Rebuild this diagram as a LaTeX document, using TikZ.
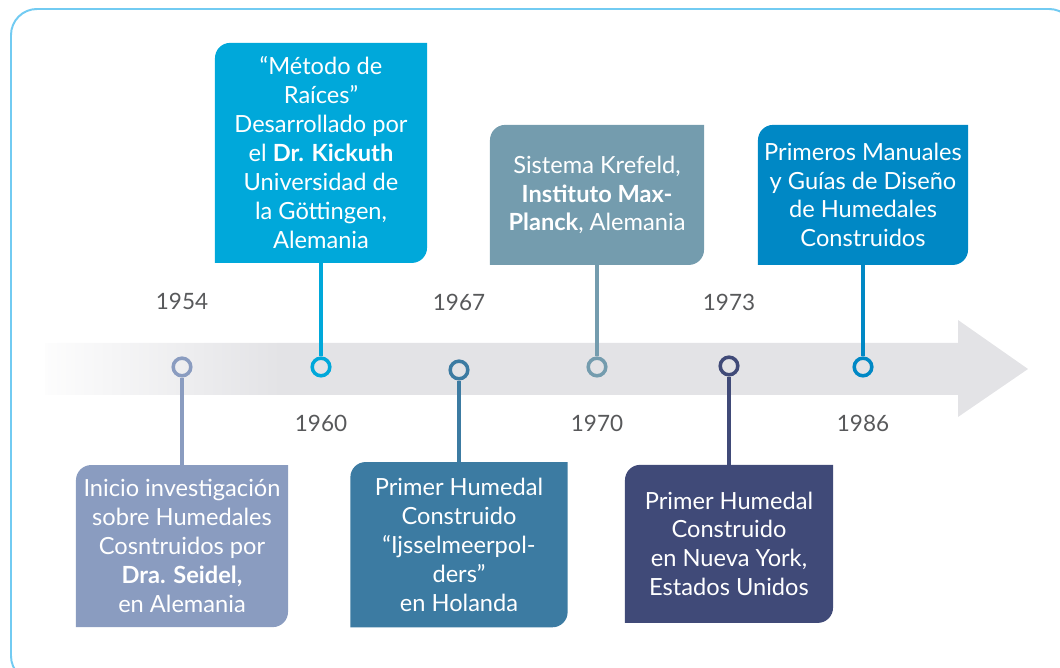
\documentclass[tikz,border=0pt]{standalone}
\usepackage{fontspec}
\setmainfont{Lato}
\usetikzlibrary{positioning}
\definecolor{framecol}{HTML}{72CBF2}
\definecolor{bandcol}{HTML}{E3E3E6}
\definecolor{yearcol}{HTML}{58595B}
\definecolor{lavender}{HTML}{8A9CC0}
\definecolor{cyanblue}{HTML}{00A8DA}
\definecolor{steelblue}{HTML}{3C7BA2}
\definecolor{slateblue}{HTML}{749CAE}
\definecolor{navyblue}{HTML}{404A78}
\definecolor{oceanblue}{HTML}{0088C5}
\pgfdeclarehorizontalshading{bandfade}{100bp}{color(0bp)=(white); color(25bp)=(white!92!bandcol); color(37bp)=(bandcol); color(100bp)=(bandcol)}
\newcommand{\leafr}{0.38cm}
\tikzset{x=0.025cm, y=0.025cm, % one unit is one pixel of the sketch
leaf/.style={text=white, align=center, inner sep=0pt, % box with two round corners
  font=\fontsize{16.8}{20.6}\selectfont,
  path picture={\fill[#1] ([yshift=-\leafr]path picture bounding box.north west)
    arc[start angle=180, end angle=90, radius=\leafr] -- (path picture bounding box.north east)
    -- ([yshift=\leafr]path picture bounding box.south east)
    arc[start angle=0, end angle=-90, radius=\leafr] -- (path picture bounding box.south west) -- cycle;}},
dot/.style={circle, draw=#1, line width=2.5pt, minimum size=0.44cm, inner sep=0pt}, % ring on the band
link/.style={draw=#1, line width=2.5pt}, % stem from ring to box
year/.style={text=yearcol, font=\fontsize{16}{18}\selectfont},
}

\begin{document}
\begin{tikzpicture}
\useasboundingbox (0,0) rectangle (1060,668);
\clip (0,0) rectangle (1060,668);
\draw[framecol, line width=1.4pt, rounded corners=0.65cm] (11,659) rectangle (1075,-14);

% time band
\shade[shading=bandfade] (45,325) -- (958,325) -- (958,348) -- (1028,299) -- (958,251) -- (958,273) -- (45,273) -- cycle;

\node[dot=lavender] (c1954) at (182,301) {};
\node[dot=cyanblue] (c1960) at (321,301) {};
\node[dot=steelblue] (c1967) at (459,298) {};
\node[dot=slateblue] (c1970) at (597,301) {};
\node[dot=navyblue] (c1973) at (729,302) {};
\node[dot=oceanblue] (c1986) at (863,301) {};

\node[year, above of=c1954, node distance=1.63cm] (y1954) {1954};
\node[year, above of=c1967, node distance=1.7cm] (y1967) {1967};
\node[year, above of=c1973, node distance=1.6cm] (y1973) {1973};
\node[year, below of=c1960, node distance=1.4cm] (y1960) {1960};
\node[year, below of=c1970, node distance=1.4cm] (y1970) {1970};
\node[year, below of=c1986, node distance=1.4cm] (y1986) {1986};

\node[leaf=lavender, minimum width=5.3cm, minimum height=4.05cm, below=2.18cm of c1954] (b1954)
  {Inicio investigación\\sobre Humedales\\Cosntruidos por\\\textbf{Dra. Seidel,}\\en Alemania};
\node[leaf=cyanblue, minimum width=5.3cm, minimum height=5.5cm, above=2.33cm of c1960] (b1960)
  {“Método de\\Raíces”\\Desarrollado por\\el \textbf{Dr. Kickuth}\\Universidad de\\la Göttingen,\\Alemania};
\node[leaf=steelblue, minimum width=5.43cm, minimum height=4.13cm, below=2.03cm of c1967] (b1967)
  {Primer Humedal\\Construido\\“Ijsselmeerpol-\\ders”\\en Holanda};
\node[leaf=slateblue, minimum width=5.35cm, minimum height=3.5cm, above=2.28cm of c1970] (b1970)
  {Sistema Krefeld,\\\textbf{Instituto Max-}\\\textbf{Planck}, Alemania};
\node[leaf=navyblue, minimum width=5.2cm, minimum height=3.95cm, below=2.2cm of c1973] (b1973)
  {Primer Humedal\\Construido\\en Nueva York,\\Estados Unidos};
\node[leaf=oceanblue, minimum width=5.25cm, minimum height=3.5cm, above=2.28cm of c1986] (b1986)
  {Primeros Manuales\\y Guías de Diseño\\de Humedales\\Construidos};

\draw[link=lavender] (c1954) -- (b1954);
\draw[link=cyanblue] (b1960) -- (c1960);
\draw[link=steelblue] (c1967) -- (b1967);
\draw[link=slateblue] (b1970) -- (c1970);
\draw[link=navyblue] (c1973) -- (b1973);
\draw[link=oceanblue] (b1986) -- (c1986);
\end{tikzpicture}
\end{document}
